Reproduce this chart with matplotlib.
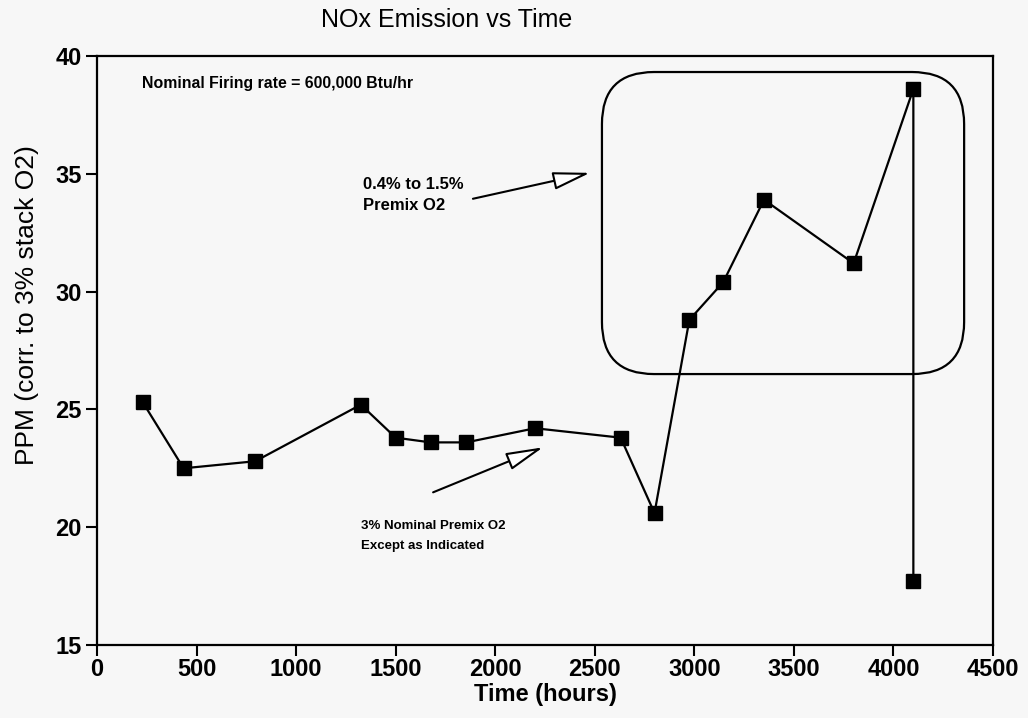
import matplotlib
matplotlib.use("Agg")
import matplotlib.pyplot as plt
from matplotlib.patches import FancyBboxPatch

plt.rcParams['font.family'] = ['Liberation Sans', 'DejaVu Sans']

# Data
time_hours = [230, 435, 795, 1325, 1500, 1675, 1855, 2200, 2630, 2800, 2975, 3145, 3350, 3800, 4100, 4100]
ppm = [25.3, 22.5, 22.8, 25.2, 23.8, 23.6, 23.6, 24.2, 23.8, 20.6, 28.8, 30.4, 33.9, 31.2, 38.6, 17.7]

x_ticks = [0, 500, 1000, 1500, 2000, 2500, 3000, 3500, 4000, 4500]
y_ticks = [15, 20, 25, 30, 35, 40]

title = "NOx Emission vs Time"
xlabel = "Time (hours)"
ylabel = "PPM (corr. to 3% stack O2)"
note = "Nominal Firing rate = 600,000 Btu/hr"
upper_note = "0.4% to 1.5%\nPremix O2"
lower_note = "3% Nominal Premix O2\nExcept as Indicated"

bg = '#f7f7f7'
fig = plt.figure(figsize=(10.28, 7.18), dpi=100, facecolor=bg)
ax = fig.add_axes([97/1028, 1 - 645/718, (993-97)/1028, (645-56)/718])
ax.set_facecolor(bg)

ax.plot(time_hours, ppm, color='black', lw=1.6, marker='s', ms=10,
        mfc='black', mec='black', zorder=3)

ax.set_xlim(0, 4500)
ax.set_ylim(15, 40)
ax.set_xticks(x_ticks)
ax.set_yticks(y_ticks)
ax.tick_params(axis='both', direction='out', length=8, width=1.5,
               labelsize=17, colors='black', pad=3)
ax.tick_params(axis='x', pad=1)
for lab in ax.get_xticklabels() + ax.get_yticklabels():
    lab.set_fontweight('bold')
for s in ax.spines.values():
    s.set_linewidth(1.6)

ax.set_xlabel(xlabel, fontsize=17, fontweight='bold', labelpad=2)
ax.set_ylabel(ylabel, fontsize=19, va='center')
ax.yaxis.set_label_coords((27 - 97) / 896, (645 - 305) / 589)
fig.text(447/1028, 1 - 20/718, title, fontsize=18, ha='center', va='center')

ax.text(228, 38.85, note, fontsize=11.4, fontweight='bold', ha='left', va='center')
ax.text(1335, 34.1, upper_note, fontsize=12, fontweight='bold', ha='left',
        va='center', linespacing=1.55)
ax.text(1325, 19.63, lower_note, fontsize=9.5, fontweight='bold', ha='left',
        va='center', linespacing=1.85)

# Arrows
arrowprops = dict(arrowstyle='-|>,head_length=2.3,head_width=0.55', fc='white',
                  ec='black', lw=1.5, shrinkA=0, shrinkB=0, mutation_scale=10)
ax.annotate('', xy=(2476, 35.04), xytext=(1888, 33.94), arrowprops=arrowprops)
ax.annotate('', xy=(2240, 23.39), xytext=(1688, 21.48), arrowprops=arrowprops)

# Rounded box
x_per_px = 4500 / (993 - 97)
y_per_px = 25 / (645 - 56)
aspect = y_per_px / x_per_px
box = FancyBboxPatch((2536, 26.5), 4355 - 2536, 39.32 - 26.5,
                     boxstyle='round,pad=0,rounding_size=%f' % (52 * x_per_px),
                     mutation_aspect=aspect, fc='none', ec='black', lw=1.6, zorder=2)
ax.add_patch(box)

fig.savefig('out.png', dpi=100, facecolor=bg)
